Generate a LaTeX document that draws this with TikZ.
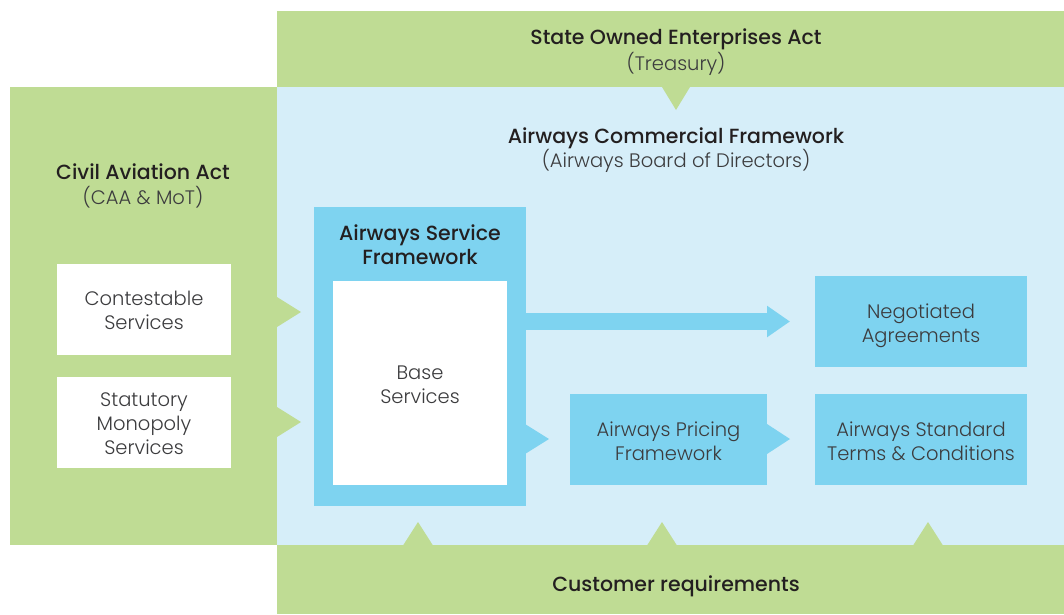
\documentclass[tikz,border=0pt]{standalone}
\usepackage{fontspec}
\setmainfont{Poppins}[UprightFont=* Light, BoldFont=* Medium]
\usetikzlibrary{arrows.meta}
\definecolor{grn}{RGB}{191,220,148}
\definecolor{lblue}{RGB}{214,238,249}
\definecolor{mblue}{RGB}{126,211,240}
\definecolor{txtc}{RGB}{60,60,62}
\definecolor{boldc}{RGB}{35,31,32}
\begin{document}
\begin{tikzpicture}[x=1pt,y=-1pt,
  area/.style={draw=none,inner sep=0pt,outer sep=0pt},
  ln/.style={anchor=base,inner sep=0pt,text=txtc,font=\fontsize{19.5}{24}\selectfont},
  bl/.style={anchor=base,inner sep=0pt,text=boldc,font=\fontsize{20.5}{24}\selectfont\bfseries},
  tri/.style={fill=grn},
  btri/.style={fill=mblue}]
\useasboundingbox (0,0) rectangle (1064,614);
% backgrounds
\node[area,fill=lblue,minimum width=787pt,minimum height=458pt] (acf) at (670.5,316) {};
\node[area,fill=grn,minimum width=787pt,minimum height=76pt] (soe) at (670.5,49) {};
\node[area,fill=grn,minimum width=267pt,minimum height=458pt] (caa) at (143.5,316) {};
\node[area,fill=grn,minimum width=787pt,minimum height=69pt] (cust) at (670.5,579.5) {};
% white boxes
\node[area,fill=white,minimum width=174pt,minimum height=91pt] (cont) at (144,309.5) {};
\node[area,fill=white,minimum width=174pt,minimum height=91pt] (stat) at (144,422.5) {};
% service framework
\node[area,fill=mblue,minimum width=212pt,minimum height=299pt] (asf) at (420,356.5) {};
\node[area,fill=white,minimum width=174pt,minimum height=204pt] (base) at (420,383) {};
% right boxes
\node[area,fill=mblue,minimum width=212pt,minimum height=91pt] (neg) at (921,321.5) {};
\node[area,fill=mblue,minimum width=197pt,minimum height=91pt] (price) at (668.5,439.5) {};
\node[area,fill=mblue,minimum width=212pt,minimum height=91pt] (std) at (921,439.5) {};
% triangles
\fill[tri] (662,87) -- (690,87) -- (676,110) -- cycle;
\fill[tri] (277,297) -- (301,312) -- (277,327) -- cycle;
\fill[tri] (277,407) -- (301,422) -- (277,437) -- cycle;
\fill[btri] (525,424) -- (549,439) -- (525,454) -- cycle;
\fill[btri] (767,424) -- (790,439) -- (767,454) -- cycle;
\fill[tri] (403,545.5) -- (418,522) -- (433,545.5) -- cycle;
\fill[tri] (647,545.5) -- (662,522) -- (677,545.5) -- cycle;
\fill[tri] (913,545.5) -- (928,522) -- (943,545.5) -- cycle;
% big arrow
\coordinate (atip) at (790,321.5);
\draw[mblue,line width=17pt,-{Triangle[length=23pt,width=30pt]}] (asf.east |- atip) -- (atip);
% texts
\node[bl] (soe1) at (676,44) {State Owned Enterprises Act};
\node[ln] (soe2) at (676,70) {(Treasury)};
\node[bl] (acf1) at (676,143) {Airways Commercial Framework};
\node[ln] (acf2) at (676,167) {(Airways Board of Directors)};
\node[bl] (caa1) at (143,179) {Civil Aviation Act};
\node[ln] (caa2) at (143,204) {(CAA \& MoT)};
\node[ln] (cont1) at (144,305) {Contestable};
\node[ln] (cont2) at (144,329) {Services};
\node[ln] (stat1) at (144,406) {Statutory};
\node[ln] (stat2) at (144,430) {Monopoly};
\node[ln] (stat3) at (144,454) {Services};
\node[bl] (asf1) at (420,240) {Airways Service};
\node[bl] (asf2) at (420,264) {Framework};
\node[ln] (base1) at (420,379) {Base};
\node[ln] (base2) at (420,403) {Services};
\node[ln] (neg1) at (921,318) {Negotiated};
\node[ln] (neg2) at (921,342) {Agreements};
\node[ln] (price1) at (668.5,436) {Airways Pricing};
\node[ln] (price2) at (668.5,460) {Framework};
\node[ln] (std1) at (921,436) {Airways Standard};
\node[ln] (std2) at (921,460) {Terms \& Conditions};
\node[bl] (cust1) at (676,591) {Customer requirements};
\end{tikzpicture}
\end{document}
